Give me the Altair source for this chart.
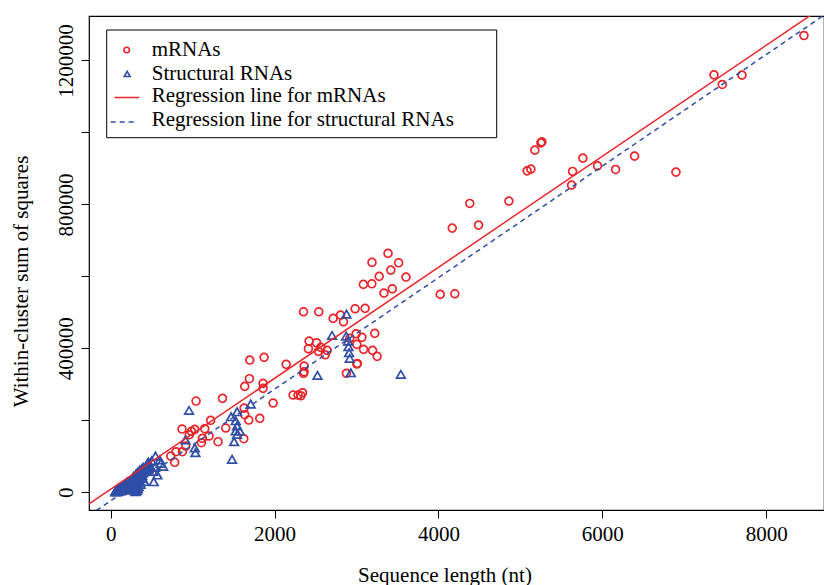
import altair as alt
import pandas as pd

FONT = "Liberation Serif"
RED = "#E8262C"
BLUE = "#2F4EA6"

# ---- data ----
mrna_len = [8461, 7363, 7464, 7705, 5263, 5250, 5177, 5083, 5128, 5763, 5637, 5625, 5942, 6162,
            6394, 6899, 4383, 4860, 4169, 4490, 3385, 3189, 3514, 3419, 3277, 3604, 3084, 3187,
            3437, 3335, 4022, 4200, 2353, 2540, 2805, 2715, 2841, 2983, 3105, 2996, 3066, 3223,
            2918, 3004, 3086, 3196, 3252, 3004, 3010, 2421, 2512, 2413, 2536, 2564, 2642, 2618,
            1697, 1872, 2141, 2361, 2353, 2361, 2877, 1693, 1636, 1860, 1860, 1982, 2226, 2287,
            2341, 2321, 1364, 1042, 871, 985, 1026, 1148, 1220, 1404, 1200, 1119, 1107, 1310,
            1628, 1685, 1819, 1636, 1624, 733, 781, 797, 875, 916, 960, 476, 400, 300, 200, 120]
mrna_ss = [1269400, 1160000, 1133300, 1159200, 973900, 971100, 950800, 893300, 898000, 928600,
           891700, 853600, 907200, 897200, 934200, 889700, 802800, 809200, 734200, 742500,
           663900, 638900, 637800, 617500, 600000, 598100, 577800, 579400, 565600, 553600,
           550000, 551700, 501700, 501700, 492500, 483300, 473900, 510000, 511100, 440600,
           430600, 441700, 427800, 411100, 397200, 394400, 377800, 356400, 358000, 420300,
           415600, 398900, 391700, 402800, 394400, 382200, 367500, 375000, 355600, 350800,
           330600, 335000, 330600, 315700, 294300, 302800, 288900, 248100, 270300, 270300,
           276700, 268300, 261100, 253600, 175800, 169400, 175000, 176700, 200000, 178600,
           156400, 150000, 137800, 140600, 234000, 200800, 205600, 215600, 148900, 100800,
           83300, 112800, 112800, 128600, 160000, 61900, 50000, 35000, 22000, 12000]

struct_len = [2877, 2702, 2873, 2897, 2902, 2910, 2918, 2930, 2524, 3541, 956, 1709, 1542, 1470,
              1526, 1542, 1526, 1575, 1542, 1506, 1481, 912, 1026, 1034, 546, 460, 611, 541, 570,
              525, 358,
              55, 60, 70, 75, 80, 90, 95, 100, 110, 115, 120, 130, 140, 150, 160, 170, 185, 200,
              215, 230, 250, 260, 270, 280, 290, 295, 300, 305, 310, 315, 320, 325, 330, 335, 340,
              350, 360, 370, 380, 390, 400, 420, 440, 460,
              65, 85, 105, 125, 145, 165, 180, 195, 210, 225, 240, 255, 265, 275, 285, 290, 300,
              310, 320, 330, 340, 345, 355, 365, 375, 385, 395, 410, 430, 450, 480, 500, 520, 600,
              640]
struct_ss = [495300, 436100, 434200, 420300, 404500, 387800, 372200, 332200, 325000, 327800,
             227800, 245300, 223900, 210000, 198900, 184200, 170300, 170300, 161100, 140600,
             91700, 145300, 123100, 110000, 100800, 84200, 80600, 69400, 48100, 29400, 61900,
             1000, 3000, 2000, 6000, 4000, 8000, 3000, 10000, 6000, 14000, 9000, 12000, 16000,
             11000, 20000, 15000, 22000, 26000, 18000, 30000, 35000, 24000, 40000, 45000, 8000,
             30000, 15000, 50000, 4000, 38000, 25000, 55000, 10000, 44000, 32000, 60000, 28000,
             52000, 66000, 38000, 70000, 58000, 75000, 64000,
             5000, 2000, 7000, 4000, 18000, 8000, 12000, 28000, 6000, 14000, 20000, 32000, 10000,
             36000, 20000, 42000, 2000, 22000, 6000, 34000, 16000, 48000, 42000, 22000, 62000,
             46000, 54000, 30000, 68000, 80000, 72000, 88000, 58000, 90000, 72000]

# regression coefficients (intercept, slope)
reg_mrna = (8400, 154.2)
reg_struct = (-23500, 155.0)

x_ticks = [0, 2000, 4000, 6000, 8000]
y_ticks = [0, 200000, 400000, 600000, 800000, 1000000, 1200000]
x_domain = [-265, 8706]
y_domain = [-49170, 1323600]

legend_labels = ["mRNAs", "Structural RNAs", "Regression line for mRNAs",
                 "Regression line for structural RNAs"]

# ---- tables ----
df_m = pd.DataFrame({"len": mrna_len, "ss": mrna_ss})
df_s = pd.DataFrame({"len": struct_len, "ss": struct_ss})
df_lm = pd.DataFrame({"len": x_domain,
                      "ss": [reg_mrna[0] + reg_mrna[1] * v for v in x_domain]})
df_ls = pd.DataFrame({"len": x_domain,
                      "ss": [reg_struct[0] + reg_struct[1] * v for v in x_domain]})
one = pd.DataFrame({"a": [0]})

W, H = 735, 494

xscale = alt.Scale(domain=x_domain, nice=False, zero=False)
yscale = alt.Scale(domain=y_domain, nice=False, zero=False)

xaxis = alt.Axis(values=x_ticks, format="d", title="Sequence length (nt)", domain=False,
                 grid=False, tickSize=8, tickColor="black", tickWidth=1,
                 labelFont=FONT, labelFontSize=21, labelColor="black", labelPadding=5,
                 labelOverlap=False, labelFlush=False,
                 titleFont=FONT, titleFontSize=21, titleFontWeight="normal", titleColor="black",
                 titleX=355.5, titleY=71, titleAlign="center", titleBaseline="alphabetic")
yaxis = alt.Axis(values=y_ticks, labelExpr="datum.value % 400000 == 0 ? format(datum.value, 'd') : ''",
                 domain=False, grid=False, tickSize=8, tickColor="black", tickWidth=1,
                 labelFont=FONT, labelFontSize=21, labelColor="black", labelPadding=9,
                 labelAngle=270, labelAlign="center", labelBaseline="alphabetic",
                 labelOverlap=False, labelFlush=False,
                 title="Within-cluster sum of squares",
                 titleFont=FONT, titleFontSize=21, titleFontWeight="normal", titleColor="black",
                 titleAngle=270, titleX=-62, titleY=265, titleAlign="center",
                 titleBaseline="alphabetic")

pts_m = alt.Chart(df_m).mark_point(shape="circle", filled=False, color=RED, size=62,
                                   strokeWidth=1.7, opacity=1).encode(
    x=alt.X("len:Q", scale=xscale, axis=xaxis),
    y=alt.Y("ss:Q", scale=yscale, axis=yaxis))
pts_s = alt.Chart(df_s).mark_point(shape="triangle-up", filled=False, color=BLUE, size=75,
                                   strokeWidth=1.7, opacity=1).encode(
    x=alt.X("len:Q", scale=xscale), y=alt.Y("ss:Q", scale=yscale))
line_m = alt.Chart(df_lm).mark_line(color=RED, strokeWidth=1.5, clip=True).encode(
    x=alt.X("len:Q", scale=xscale), y=alt.Y("ss:Q", scale=yscale))
line_s = alt.Chart(df_ls).mark_line(color=BLUE, strokeWidth=1.5, strokeDash=[5, 4],
                                    clip=True).encode(
    x=alt.X("len:Q", scale=xscale), y=alt.Y("ss:Q", scale=yscale))

# ---- legend ----
leg_box = alt.Chart(one).mark_rect(fill="white", stroke="black", strokeWidth=1).encode(
    x=alt.value(17.7), x2=alt.value(407.7), y=alt.value(14), y2=alt.value(121.7))
leg_c = alt.Chart(one).mark_point(shape="circle", filled=False, color=RED, size=30,
                                  strokeWidth=1.6, opacity=1).encode(x=alt.value(37.7), y=alt.value(34))
leg_t = alt.Chart(one).mark_point(shape="triangle-up", filled=False, color=BLUE, size=34,
                                  strokeWidth=1.6, opacity=1).encode(x=alt.value(38.2), y=alt.value(58))
leg_l1 = alt.Chart(one).mark_rule(color=RED, strokeWidth=1.5).encode(
    x=alt.value(25.3), x2=alt.value(50.3), y=alt.value(81.5))
leg_l2 = alt.Chart(one).mark_rule(color=BLUE, strokeWidth=1.5, strokeDash=[5, 4]).encode(
    x=alt.value(21.7), x2=alt.value(47.7), y=alt.value(106))
leg_y = [39.7, 64.2, 86.2, 110.2]
leg_texts = [alt.Chart(one).mark_text(text=lab, align="left", baseline="alphabetic", font=FONT,
                                      fontSize=21, color="black").encode(
    x=alt.value(62.7), y=alt.value(yy)) for lab, yy in zip(legend_labels, leg_y)]

chart = alt.layer(pts_m, pts_s, line_m, line_s, leg_box, leg_c, leg_t, leg_l1, leg_l2,
                  *leg_texts).properties(
    width=W, height=H,
    autosize=alt.AutoSizeParams(type="none"),
    padding={"left": 89, "top": 16, "right": 0, "bottom": 75},
    background="white",
).configure_view(stroke="black", strokeWidth=1.2)

chart.save("out.html", embed_options={"renderer": "svg", "actions": False})
